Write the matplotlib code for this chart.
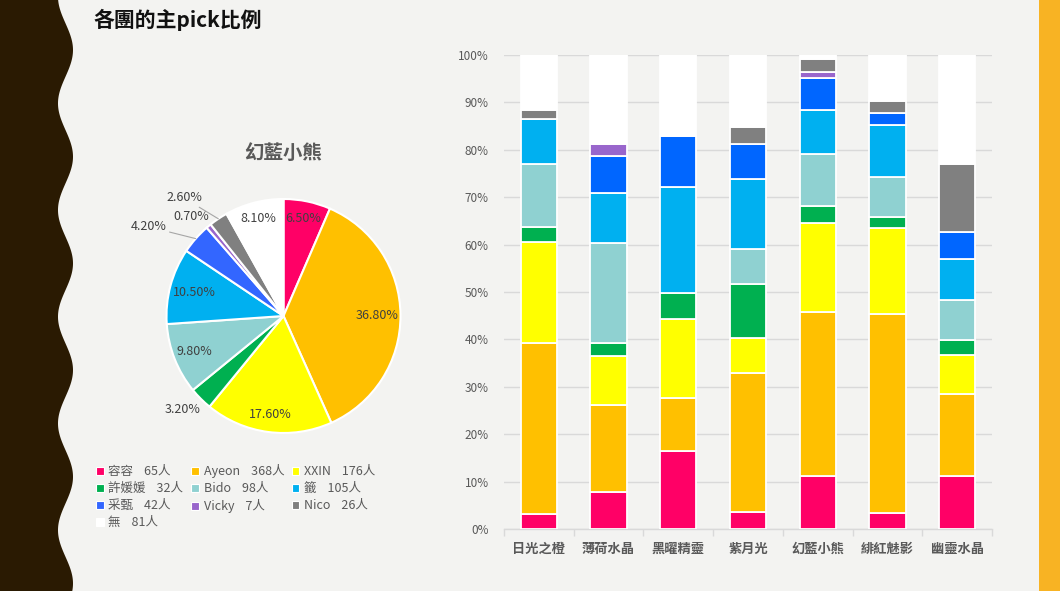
import numpy as np
import matplotlib
matplotlib.use("Agg")
import matplotlib.pyplot as plt
from matplotlib.patches import Patch
from matplotlib.ticker import PercentFormatter, FixedLocator

plt.rcParams["font.family"] = ["Noto Sans CJK TC", "DejaVu Sans"]

# DATA ==================================================================================

members = ["容容", "Ayeon", "XXIN", "許媛媛", "Bido", "籤", "采甄", "Vicky", "Nico", "無"]

# 幻藍小熊 pie: head counts per member
pie_counts = [65, 368, 176, 32, 98, 105, 42, 7, 26, 81]

groups = ["日光之橙", "薄荷水晶", "黑曜精靈", "紫月光", "幻藍小熊", "緋紅魅影", "幽靈水晶"]

# stacked bar shares (%) per member, one value per group
rongrong = [3.2, 7.8, 16.5, 3.5, 11.1, 3.3, 11.1]
ayeon    = [36.1, 18.4, 11.1, 29.5, 34.6, 42.1, 17.4]
xxin     = [21.2, 10.4, 16.7, 7.4, 18.8, 18.0, 8.3]
xuyuan   = [3.2, 2.6, 5.5, 11.2, 3.7, 2.5, 3.0]
bido     = [13.2, 21.1, 0.0, 7.4, 11.0, 8.4, 8.5]
qian     = [9.7, 10.6, 22.4, 14.8, 9.1, 11.0, 8.6]
caizhen  = [0.0, 7.7, 10.8, 7.4, 6.9, 2.5, 5.7]
vicky    = [0.0, 2.7, 0.0, 0.0, 1.3, 0.0, 0.0]
nico     = [1.7, 0.0, 0.0, 3.7, 2.7, 2.4, 14.4]
none_    = [11.7, 18.7, 17.0, 15.1, 0.8, 9.8, 23.0]

bar_series = [rongrong, ayeon, xxin, xuyuan, bido, qian, caizhen, vicky, nico, none_]

# STYLE =================================================================================

pie_colors = ["#FF0066", "#FFC000", "#FFFF00", "#00B050", "#8FD1D1",
              "#00B0F0", "#3366FF", "#9966CC", "#808080", "#FFFFFF"]
bar_colors = list(pie_colors)
bar_colors[6] = "#0066FF"

W, H = 1060, 591
text_gray = "#595959"
grid_gray = "#D9D9D9"

fig = plt.figure(figsize=(W / 100, H / 100), dpi=100, facecolor="#F3F3F1")

# background decoration: wavy dark border on the left, orange strip on the right
bg = fig.add_axes([0, 0, 1, 1], zorder=-5)
bg.set_xlim(0, W)
bg.set_ylim(H, 0)
bg.axis("off")
yy = np.linspace(0, H, 600)
wave = 65.5 + 7.5 * np.cos(2 * np.pi * (yy - 50) / 106.7)
bg.fill_betweenx(yy, 0, wave, color="#2A1A02", lw=0)
bg.axvspan(1039, W, color="#F8B323", lw=0)

fig.text(93 / W, 1 - 20 / H, "各團的主pick比例", fontsize=15, fontweight="bold",
         color="#111111", va="center", ha="left")

# PIE ===================================================================================

cx, cy, R = 283.5, 316, 117
lim = 1.6
side = R * lim
ax_p = fig.add_axes([(cx - side) / W, 1 - (cy + side) / H, 2 * side / W, 2 * side / H])
wedges, _ = ax_p.pie(pie_counts, colors=pie_colors, startangle=90, counterclock=False,
                     wedgeprops=dict(edgecolor="white", linewidth=1.5))
ax_p.set_xlim(-lim, lim)
ax_p.set_ylim(-lim, lim)
ax_p.set_aspect("equal")
ax_p.axis("off")

total = sum(pie_counts)
label_r = [0.85, 0.80, 0.85, 1.17, 0.82, 0.79, 1.38, 1.16, 1.32, 0.86]
label_dth = [0, 0, 0, -2.2, 0, 0, 7.9, 2.9, 6.3, 0]
leader = [6, 8]
for i, w in enumerate(wedges):
    mid = np.deg2rad((w.theta1 + w.theta2) / 2)
    th = mid + np.deg2rad(label_dth[i])
    pos = (label_r[i] * np.cos(th), label_r[i] * np.sin(th))
    txt = f"{pie_counts[i] / total * 100:.2f}%"
    if i in leader:
        ax_p.annotate(txt, xy=(np.cos(mid), np.sin(mid)), xytext=pos,
                      ha="center", va="center", fontsize=9, color="#404040",
                      arrowprops=dict(arrowstyle="-", color="#A6A6A6", lw=0.8,
                                      shrinkA=0, shrinkB=0))
    else:
        ax_p.text(pos[0], pos[1], txt, ha="center", va="center", fontsize=9, color="#404040")

fig.text(cx / W, 1 - 153 / H, "幻藍小熊", fontsize=14, fontweight="bold",
         color=text_gray, ha="center", va="center")

# legend, laid out row by row as in the original
handles = [Patch(facecolor=c, edgecolor="white", linewidth=0.8) for c in pie_colors]
labels = [f"{m}    {n}人" for m, n in zip(members, pie_counts)]
order = [0, 3, 6, 9, 1, 4, 7, 2, 5, 8]
leg = fig.legend([handles[i] for i in order], [labels[i] for i in order],
                 loc="upper left", bbox_to_anchor=(96 / W, 1 - 464 / H), ncol=3,
                 frameon=False, fontsize=9, handlelength=0.6, handleheight=0.6,
                 handletextpad=0.4, columnspacing=0.6, labelspacing=0.32,
                 borderpad=0, borderaxespad=0)
for t in leg.get_texts():
    t.set_color(text_gray)

# STACKED BARS ==========================================================================

ax_b = fig.add_axes([504 / W, 1 - 529 / H, 488 / W, 474 / H])
ax_b.set_facecolor("none")
x = np.arange(len(groups))
bottom = np.zeros(len(groups))
for vals, col in zip(bar_series, bar_colors):
    v = np.array(vals) / 100
    ax_b.bar(x, v, bottom=bottom, width=0.52, color=col, edgecolor="white",
             linewidth=1.3, zorder=3)
    bottom += v

ax_b.set_xlim(-0.5, len(groups) - 0.5)
ax_b.set_ylim(0, 1)
ax_b.set_yticks(np.arange(0, 1.01, 0.1))
ax_b.yaxis.set_major_formatter(PercentFormatter(1.0, decimals=0))
ax_b.grid(axis="y", color=grid_gray, lw=1, zorder=0)
ax_b.set_xticks(x)
ax_b.set_xticklabels(groups, fontsize=9.5, fontweight="bold", color=text_gray)
ax_b.xaxis.set_minor_locator(FixedLocator(np.arange(-0.5, len(groups), 1)))
ax_b.tick_params(axis="x", which="major", length=0, pad=9)
ax_b.tick_params(axis="x", which="minor", length=5, color=grid_gray, width=1)
ax_b.tick_params(axis="y", length=0, pad=11, labelsize=8.5, labelcolor=text_gray)
for s in ["top", "right", "left"]:
    ax_b.spines[s].set_visible(False)
ax_b.spines["bottom"].set_color(grid_gray)
ax_b.spines["bottom"].set_linewidth(1)

fig.savefig("out.png", dpi=100, facecolor=fig.get_facecolor())
